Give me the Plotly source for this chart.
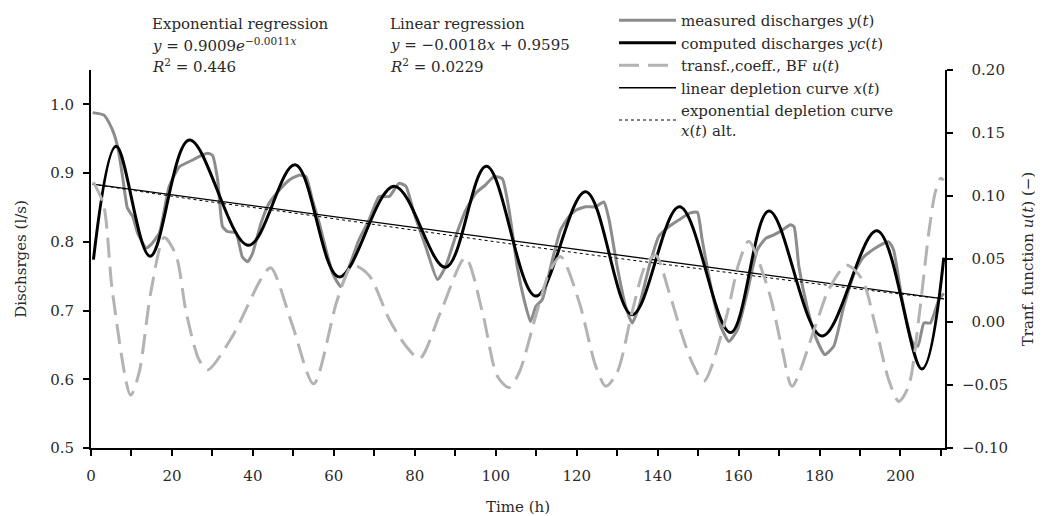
import plotly.graph_objects as go

# ---------------- data ----------------
t_meas = [0.4, 3.3, 5.3, 6.6, 7.8, 9.0, 10.3, 11.5, 13.6, 14.8, 16.9, 19.3, 21.8, 25.1, 26.7, 28.8, 30.0,
          31.3, 32.5, 33.7, 35.8, 37.4, 38.7, 39.9, 42.0, 44.0, 46.5, 49.0, 51.4, 53.1, 54.7, 56.4, 59.7,
          61.7, 63.8, 66.2, 68.7, 71.2, 73.7, 76.1, 77.8, 79.8, 82.7, 85.6, 87.6, 90.1, 92.6, 95.1, 97.5,
          99.6, 101.6, 103.3, 105.3, 107.0, 108.6, 109.9, 111.5, 114.0, 116.0, 118.1, 119.8, 122.2, 124.7,
          126.7, 128.0, 130.0, 132.1, 133.7, 135.4, 137.9, 140.3, 142.8, 145.3, 148.1, 149.8, 151.0, 153.5,
          155.6, 157.6, 159.7, 162.1, 164.6, 166.7, 168.7, 170.8, 172.8, 173.7, 174.9, 176.9, 179.0, 181.3,
          183.5, 186.0, 188.9, 190.9, 193.8, 197.1, 198.3, 200.4, 202.9, 204.3, 205.8, 207.4, 209.5, 210.7]
y_meas = [0.988, 0.984, 0.963, 0.938, 0.895, 0.849, 0.837, 0.813, 0.791, 0.796, 0.813, 0.880, 0.909, 0.919, 0.924, 0.929, 0.926,
          0.890, 0.822, 0.815, 0.813, 0.778, 0.771, 0.783, 0.827, 0.856, 0.875, 0.890, 0.897, 0.895, 0.861, 0.827, 0.754,
          0.735, 0.764, 0.803, 0.832, 0.866, 0.866, 0.885, 0.881, 0.842, 0.793, 0.745, 0.764, 0.808, 0.846, 0.871, 0.883,
          0.895, 0.892, 0.846, 0.764, 0.716, 0.684, 0.706, 0.716, 0.774, 0.817, 0.837, 0.846, 0.851, 0.851,
          0.858, 0.832, 0.764, 0.706, 0.682, 0.706, 0.764, 0.808, 0.822, 0.832, 0.842, 0.843, 0.803, 0.725,
          0.677, 0.655, 0.672, 0.725, 0.788, 0.805, 0.810, 0.817, 0.825, 0.822, 0.764, 0.706, 0.662, 0.636,
          0.648, 0.706, 0.759, 0.778, 0.791, 0.800, 0.788, 0.716, 0.655, 0.648, 0.682, 0.682, 0.716, 0.725]

t_comp = [0.6, 6.2, 14.6, 24.3, 38.9, 50.4, 61.3, 74.9, 87.6, 97.7, 109.9, 122.2, 133.7, 145.4,
          158.0, 167.5, 180.6, 194.2, 205.3, 210.7]
y_comp = [0.774, 0.939, 0.779, 0.948, 0.795, 0.912, 0.749, 0.881, 0.763, 0.910, 0.721, 0.873, 0.694, 0.851,
          0.668, 0.845, 0.663, 0.816, 0.615, 0.777]

t_u = [0.6, 3.1, 5.3, 9.8, 11.9, 14.8, 18.1, 21.0, 23.5, 26.7, 28.8, 35.0, 42.0, 44.4, 49.8, 55.0, 60.9,
       64.6, 68.7, 73.7, 77.8, 81.2, 86.4, 92.5, 96.7, 100.4, 103.3, 105.8, 109.9, 113.2, 116.0, 120.6,
       124.7, 127.2, 130.0, 133.7, 137.0, 139.5, 142.8, 146.1, 148.5, 151.4, 156.8, 160.1, 162.5, 167.5,
       170.8, 173.2, 179.0, 182.3, 186.7, 190.5, 193.8, 197.1, 199.6, 202.0, 204.5, 207.0, 208.6, 209.9, 210.7]
u_vals = [0.111, 0.093, 0.024, -0.058, -0.040, 0.024, 0.067, 0.053, 0.008, -0.030, -0.038, -0.011, 0.034, 0.043, -0.003, -0.049, 0.018,
          0.045, 0.037, 0.002, -0.019, -0.029, 0.008, 0.051, 0.008, -0.043, -0.052, -0.040, 0.005, 0.039, 0.052, 0.016,
          -0.035, -0.051, -0.040, 0.008, 0.045, 0.053, 0.024, -0.011, -0.032, -0.047, 0.002, 0.047, 0.064, 0.024,
          -0.022, -0.051, -0.003, 0.026, 0.045, 0.034, -0.003, -0.046, -0.063, -0.051, 0.002, 0.071, 0.103, 0.114, 0.1125]

t_lin = [0.4, 210.7]
y_lin = [0.884, 0.717]

t_exp = [0.4, 25, 50, 75, 100, 125, 150, 175, 200, 210.7]
y_exp = [0.884, 0.862, 0.842, 0.821, 0.800, 0.780, 0.761, 0.742, 0.724, 0.717]

x_tickvals = list(range(0, 211, 10))
x_ticktext = [str(v) if v % 20 == 0 else "" for v in x_tickvals]
y_tickvals = [0.5, 0.6, 0.7, 0.8, 0.9, 1.0]
y2_tickvals = [-0.10, -0.05, 0.00, 0.05, 0.10, 0.15, 0.20]
y2_ticktext = ["\u22120.10", "\u22120.05", "\u20070.00", "\u20070.05", "\u20070.10", "\u20070.15", "\u20070.20"]

FONT = "DejaVu Serif"
FS = 15
TXT = "#2a2a2a"

fig = go.Figure()

fig.add_trace(go.Scatter(x=t_u, y=u_vals, yaxis="y2", mode="lines", name="transf.,coeff., BF <i>u</i>(<i>t</i>)",
                         line=dict(color="#b3b3b3", width=3, dash="20px,9px", shape="spline", smoothing=0.8),
                         legendrank=3))
fig.add_trace(go.Scatter(x=t_meas, y=y_meas, mode="lines", name="measured discharges <i>y</i>(<i>t</i>)",
                         line=dict(color="#8c8c8c", width=3, shape="spline", smoothing=0.5), legendrank=1))
fig.add_trace(go.Scatter(x=t_comp, y=y_comp, mode="lines", name="computed discharges <i>yc</i>(<i>t</i>)",
                         line=dict(color="#000000", width=3, shape="spline", smoothing=1.0), legendrank=2))
fig.add_trace(go.Scatter(x=t_exp, y=y_exp, mode="lines",
                         name="exponential depletion curve<br><i>x</i>(<i>t</i>) alt.",
                         line=dict(color="#000000", width=1, dash="dot", shape="spline"), legendrank=5))
fig.add_trace(go.Scatter(x=t_lin, y=y_lin, mode="lines", name="linear depletion curve <i>x</i>(<i>t</i>)",
                         line=dict(color="#000000", width=1.3), legendrank=4))

# page body has an 8px margin: figure is drawn from screen (8, 8)
OFF = 8
W, H = 1035, 508
L, R, T, B = 83, 98, 62, 68
PW, PH = W - L - R, H - T - B


def px(xs):
    """screen x -> paper x"""
    return (xs - OFF - L) / PW


def py(ys):
    """screen y -> paper y"""
    return (H - B - (ys - OFF)) / PH


annots = [
    (150, 24, "Exponential regression"),
    (150, 45.5, "<i>y</i> = 0.9009<i>e</i><sup>\u22120.0011<i>x</i></sup>"),
    (150, 66, "<i>R</i><sup>2</sup> = 0.446"),
    (388, 24, "Linear regression"),
    (388, 45.5, "<i>y</i> = \u22120.0018<i>x</i> + 0.9595"),
    (388, 66, "<i>R</i><sup>2</sup> = 0.0229"),
]
for xs_, ys_, txt in annots:
    fig.add_annotation(x=px(xs_), y=py(ys_), xref="paper", yref="paper", text=txt, showarrow=False,
                       xanchor="left", yanchor="middle", font=dict(family=FONT, size=FS, color=TXT))

axis_common = dict(showline=True, linecolor="black", linewidth=2, ticks="outside", ticklen=6,
                   tickwidth=1.5, tickcolor="black", showgrid=False, zeroline=False,
                   tickfont=dict(family=FONT, size=FS, color=TXT))

fig.update_layout(
    width=W, height=H,
    margin=dict(l=L, r=R, t=T, b=B, autoexpand=False),
    paper_bgcolor="white", plot_bgcolor="white",
    font=dict(family=FONT, size=FS, color=TXT),
    xaxis=dict(range=[0, 211], tickvals=x_tickvals, ticktext=x_ticktext, ticklabelstandoff=7,
               title=dict(text="Time (h)", font=dict(family=FONT, size=FS, color=TXT), standoff=18),
               **axis_common),
    yaxis=dict(range=[0.5, 1.05], tickvals=y_tickvals, tickformat=".1f", ticklabelstandoff=6,
               title=dict(text="Dischsrges (l/s)", font=dict(family=FONT, size=FS, color=TXT), standoff=20),
               **axis_common),
    yaxis2=dict(range=[-0.1, 0.2], overlaying="y", side="right", anchor="x",
                tickvals=y2_tickvals, ticktext=y2_ticktext, ticklabelstandoff=6,
                title=dict(text="Tranf. function <i>u</i>(<i>t</i>) (\u2212)",
                           font=dict(family=FONT, size=FS, color=TXT), standoff=16),
                **axis_common),
    showlegend=True,
    legend=dict(x=px(614), y=py(4), xanchor="left", yanchor="top", bgcolor="rgba(0,0,0,0)",
                font=dict(family=FONT, size=FS, color=TXT), itemwidth=57, tracegroupgap=0,
                traceorder="normal"),
)

fig.write_html("out.html")
